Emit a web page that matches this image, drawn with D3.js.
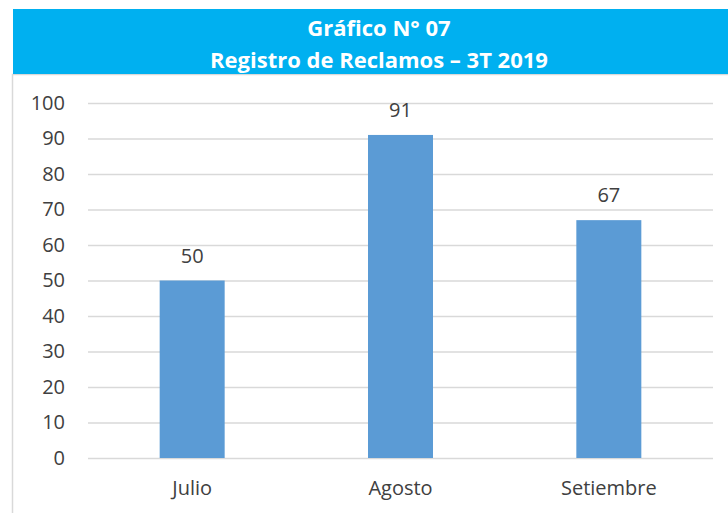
<!DOCTYPE html>
<html>
<head>
<meta charset="utf-8">
<script src="https://cdn.jsdelivr.net/npm/d3@7"></script>
<style>
  html, body { margin: 0; padding: 0; background: #fff; }
  svg { display: block; font-family: "Open Sans", "Noto Sans", sans-serif; }
</style>
</head>
<body>
<svg width="728" height="513"></svg>
<script>
const TITLE_LINES = ['Gráfico N° 07', 'Registro de Reclamos – 3T 2019'];
const MONTHS = ['Julio', 'Agosto', 'Setiembre'];
const RECLAMOS = [50, 91, 67];
const Y_TICKS = [0, 10, 20, 30, 40, 50, 60, 70, 80, 90, 100];

const BAR_COLOR = '#5b9bd5';
const GRID_COLOR = '#d9d9d9';
const TEXT_COLOR = '#404040';

const svg = d3.select('svg');
const margin = { top: 103, right: 15, bottom: 55, left: 88 };
const width = +svg.attr('width') - margin.left - margin.right;
const height = +svg.attr('height') - margin.top - margin.bottom;

// Chart frame
svg.append('rect')
    .attr('x', 12.5)
    .attr('y', 74.5)
    .attr('width', 730)
    .attr('height', 460)
    .attr('fill', 'none')
    .attr('stroke', GRID_COLOR)
    .attr('stroke-width', 1.5);

// Title banner
svg.append('rect')
    .attr('x', 13)
    .attr('y', 9)
    .attr('width', 730)
    .attr('height', 65)
    .attr('fill', '#00b0f0');

svg.append('g')
    .attr('fill', '#fff')
    .attr('font-weight', 'bold')
    .attr('font-size', 22)
    .attr('text-anchor', 'middle')
  .selectAll('text')
  .data(TITLE_LINES)
  .enter().append('text')
    .attr('x', 379)
    .attr('y', (d, i) => 36 + i * 32)
    .text(d => d);

const g = svg.append('g').attr('transform', `translate(${margin.left},${margin.top})`);

const x = d3.scaleBand()
    .domain(MONTHS)
    .range([0, width])
    .paddingInner(0.688)
    .paddingOuter(0.344);

const y = d3.scaleLinear()
    .domain([0, 100])
    .range([height, 0]);

// Gridlines + y labels
const yAxis = g.append('g')
    .call(d3.axisLeft(y).tickValues(Y_TICKS).tickSize(-width).tickPadding(23));
yAxis.select('.domain').remove();
yAxis.selectAll('.tick line')
    .attr('stroke', GRID_COLOR)
    .attr('stroke-width', 1.5);
yAxis.selectAll('.tick text')
    .attr('fill', TEXT_COLOR)
    .attr('font-size', 20)
    .attr('font-family', '"Open Sans", sans-serif');

// Bars
g.append('g')
  .selectAll('rect')
  .data(RECLAMOS)
  .enter().append('rect')
    .attr('x', (d, i) => x(MONTHS[i]))
    .attr('y', d => y(d))
    .attr('width', x.bandwidth())
    .attr('height', d => y(0) - y(d))
    .attr('fill', BAR_COLOR);

// Value labels
g.append('g')
    .attr('fill', TEXT_COLOR)
    .attr('font-size', 20)
    .attr('text-anchor', 'middle')
  .selectAll('text')
  .data(RECLAMOS)
  .enter().append('text')
    .attr('x', (d, i) => x(MONTHS[i]) + x.bandwidth() / 2)
    .attr('y', d => y(d) - 18)
    .text(d => d);

// X axis labels
const xAxis = g.append('g')
    .attr('transform', `translate(0,${height})`)
    .call(d3.axisBottom(x).tickSize(0).tickPadding(23));
xAxis.select('.domain').remove();
xAxis.selectAll('.tick text')
    .attr('fill', TEXT_COLOR)
    .attr('font-size', 20)
    .attr('font-family', '"Open Sans", sans-serif');
</script>
</body>
</html>
